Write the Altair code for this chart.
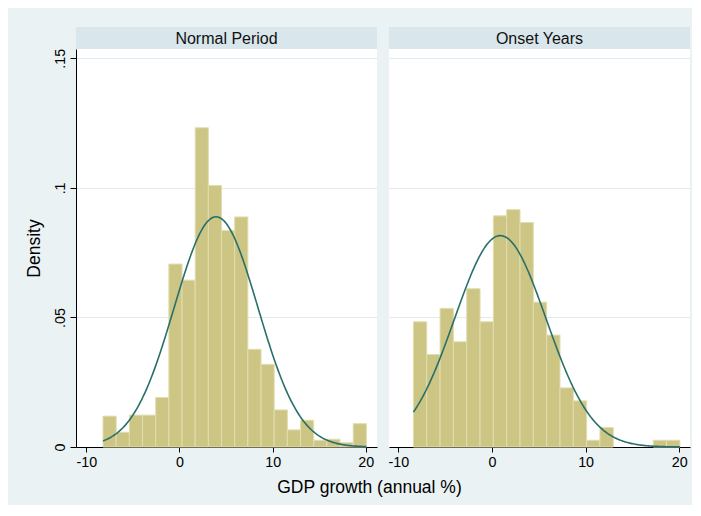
import altair as alt
import numpy as np
import pandas as pd

# ---- data ----
panel_titles = ["Normal Period", "Onset Years"]
normal_heights = [0.0119, 0.0057, 0.0123, 0.0123, 0.0191, 0.0706, 0.0644, 0.1232, 0.1009, 0.0836,
                  0.0888, 0.0377, 0.0319, 0.0143, 0.0066, 0.0103, 0.0026, 0.0030, 0.0017, 0.0090]
onset_heights = [0.0483, 0.0357, 0.0535, 0.0406, 0.0611, 0.0483, 0.0892, 0.0916, 0.0866, 0.0559,
                 0.0432, 0.0228, 0.0178, 0.0026, 0.0075, 0.0, 0.0, 0.0, 0.0026, 0.0026]
bin_start = [-8.20, -8.39]
bin_width = [1.413, 1.423]
fit_mean = [3.93, 0.89]
fit_sd = [4.49, 4.89]
x_ticks = [-10, 0, 10, 20]
y_ticks = [0, 0.05, 0.10, 0.15]

FONT = "Liberation Sans"
BG = "#EAF2F3"
HDR = "#D9E6EC"
GRID = "#E2EBEE"
BAR = "#CCC583"
BAR_EDGE = "#E2DDB0"
LINE = "#2A6F6B"
W, H = 301, 398


def panel(i, heights, show_y, xdomain):
    edges = bin_start[i] + bin_width[i] * np.arange(len(heights) + 1)
    bars = pd.DataFrame({"x0": edges[:-1], "x1": edges[1:], "density": heights, "base": 0.0})
    curve = pd.DataFrame({"g": np.linspace(edges[0], edges[-1], 240)})

    xsc = alt.Scale(domain=xdomain, nice=False, zero=False)
    ysc = alt.Scale(domain=[0, 0.1536], nice=False, zero=False)
    xax = alt.Axis(values=x_ticks, title=None, grid=False, tickSize=5, labelPadding=3,
                   labelExpr="datum.value < 0 ? '-' + abs(datum.value) : '' + datum.value",
                   domainColor="black", tickColor="black", labelFontSize=14.3, labelColor="black",
                   labelFont=FONT)
    if show_y:
        yax = alt.Axis(values=y_ticks, title="Density", grid=True, gridColor=GRID,
                       labelExpr="datum.value == 0 ? '0' : replace(format(datum.value, '.2~f'), '0.', '.')",
                       labelAngle=270, labelAlign="center", labelBaseline="bottom",
                       tickSize=6, labelPadding=3, titlePadding=10, labelFontSize=14.3,
                       titleFontSize=17.5, titleFont=FONT, labelFont=FONT,
                       titleFontWeight="normal", titleColor="black", labelColor="black",
                       domainColor="black", tickColor="black")
    else:
        yax = alt.Axis(values=y_ticks, title=None, grid=True, gridColor=GRID,
                       labels=False, ticks=False, domain=False)

    b = alt.Chart(bars).transform_filter("datum.density > 0").mark_rect(
        color=BAR, stroke=BAR_EDGE, strokeWidth=1
    ).encode(
        x=alt.X("x0:Q", scale=xsc, axis=xax),
        x2="x1:Q",
        y=alt.Y("density:Q", scale=ysc, axis=yax),
        y2="base:Q",
    )
    ln = alt.Chart(curve).transform_calculate(
        d=f"densityNormal(datum.g, {fit_mean[i]}, {fit_sd[i]})"
    ).mark_line(color=LINE, strokeWidth=1.6).encode(
        x=alt.X("g:Q", scale=xsc, axis=xax),
        y=alt.Y("d:Q", scale=ysc, axis=yax),
    )
    lab = pd.DataFrame({"t": [panel_titles[i]]})
    hdr = alt.Chart(lab).mark_rect(fill=HDR).encode(
        x=alt.value(0), x2=alt.value(W), y=alt.value(-22), y2=alt.value(0)
    )
    txt = alt.Chart(lab).mark_text(font=FONT, fontSize=16, color="#111111", baseline="middle").encode(
        x=alt.value(W / 2), y=alt.value(-10.5), text="t:N"
    )
    return alt.layer(b, ln, hdr, txt).properties(width=W, height=H)


left = panel(0, normal_heights, True, [-11.1, 21.2])
right = panel(1, onset_heights, False, [-11.0, 21.15])

chart = alt.hconcat(left, right, spacing=12, bounds="flush").properties(
    title=alt.TitleParams("GDP growth (annual %)", orient="bottom", anchor="middle",
                          font=FONT, fontSize=17.5, fontWeight="normal", color="black",
                          offset=10, dx=12),
    padding={"left": 17, "top": 19, "right": 2, "bottom": 8},
    background=BG,
).configure_view(stroke=None, fill="white")

chart.save("out.html", embed_options={"renderer": "svg", "actions": False})
